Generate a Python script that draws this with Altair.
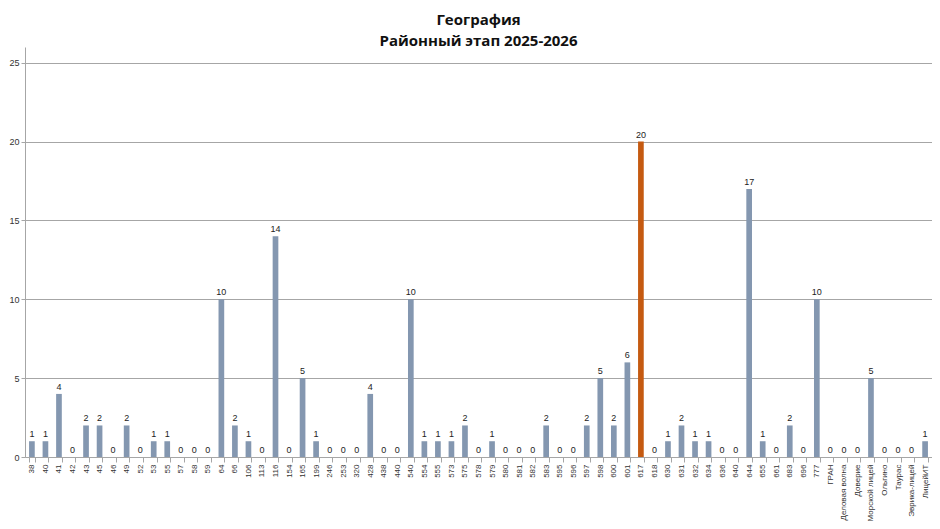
import altair as alt
import pandas as pd

schools = [
    "38", "40", "41", "42", "43", "45", "46", "49", "52", "53", "55", "57", "58", "59",
    "64", "66", "106", "113", "116", "154", "165", "199", "246", "253", "320", "428",
    "438", "440", "540", "554", "555", "573", "575", "578", "579", "580", "581", "582",
    "583", "595", "596", "597", "598", "600", "601", "617", "618", "630", "631", "632",
    "634", "636", "640", "644", "655", "661", "683", "696", "777", "ГРАН",
    "Деловая волна", "Доверие", "Морской лицей", "Ольгино", "Таурас", "Эврика-лицей",
    "ЛицейИТ",
]
counts = [
    1, 1, 4, 0, 2, 2, 0, 2, 0, 1, 1, 0, 0, 0,
    10, 2, 1, 0, 14, 0, 5, 1, 0, 0, 0, 4,
    0, 0, 10, 1, 1, 1, 2, 0, 1, 0, 0, 0,
    2, 0, 0, 2, 5, 2, 6, 20, 0, 1, 2, 1,
    1, 0, 0, 17, 1, 0, 2, 0, 10, 0,
    0, 0, 5, 0, 0, 0,
    1,
]
highlight = "617"

df = pd.DataFrame({"school": schools, "count": counts})

FONT = "Liberation Sans"

x_enc = alt.X(
    "school:N", sort=None, title=None,
    scale=alt.Scale(paddingInner=0.58, paddingOuter=0.3),
    axis=alt.Axis(labelAngle=-90, labelAlign="right", labelBaseline="middle",
                  labelFontSize=8, labelColor="#333", labelLimit=200,
                  tickBand="extent", tickSize=5, tickColor="#a6a6a6",
                  domainColor="#a6a6a6", labelPadding=2, labelFont=FONT),
)

bars = alt.Chart(df).mark_bar().encode(
    x=x_enc,
    y=alt.Y("count:Q", title=None,
            scale=alt.Scale(domain=[0, 25]),
            axis=alt.Axis(values=[0, 5, 10, 15, 20, 25], labelFontSize=9,
                          labelColor="#333", gridColor="#a6a6a6", domainColor="#a6a6a6",
                          tickColor="#a6a6a6", tickSize=4, labelFont=FONT)),
    color=alt.condition(alt.datum.school == highlight,
                        alt.value("#C55A11"), alt.value("#8497B0")),
)

labels = alt.Chart(df).mark_text(dy=-7, fontSize=9, color="#222", font=FONT).encode(
    x=alt.X("school:N", sort=None),
    y="count:Q",
    text="count:Q",
)

chart = alt.layer(bars, labels).properties(
    width=924,
    height=513,
    autosize=alt.AutoSizeParams(type="fit", contains="padding"),
    padding={"left": 0, "top": 5, "right": 0, "bottom": 0},
    title=alt.TitleParams(["География", "Районный этап 2025-2026"], fontSize=15,
                          font="Open Sans", fontWeight="bold", color="#111",
                          lineHeight=21, offset=-2, anchor="middle"),
).configure_view(stroke=None)

chart.save("out.html", embed_options={"renderer": "svg", "actions": False})
